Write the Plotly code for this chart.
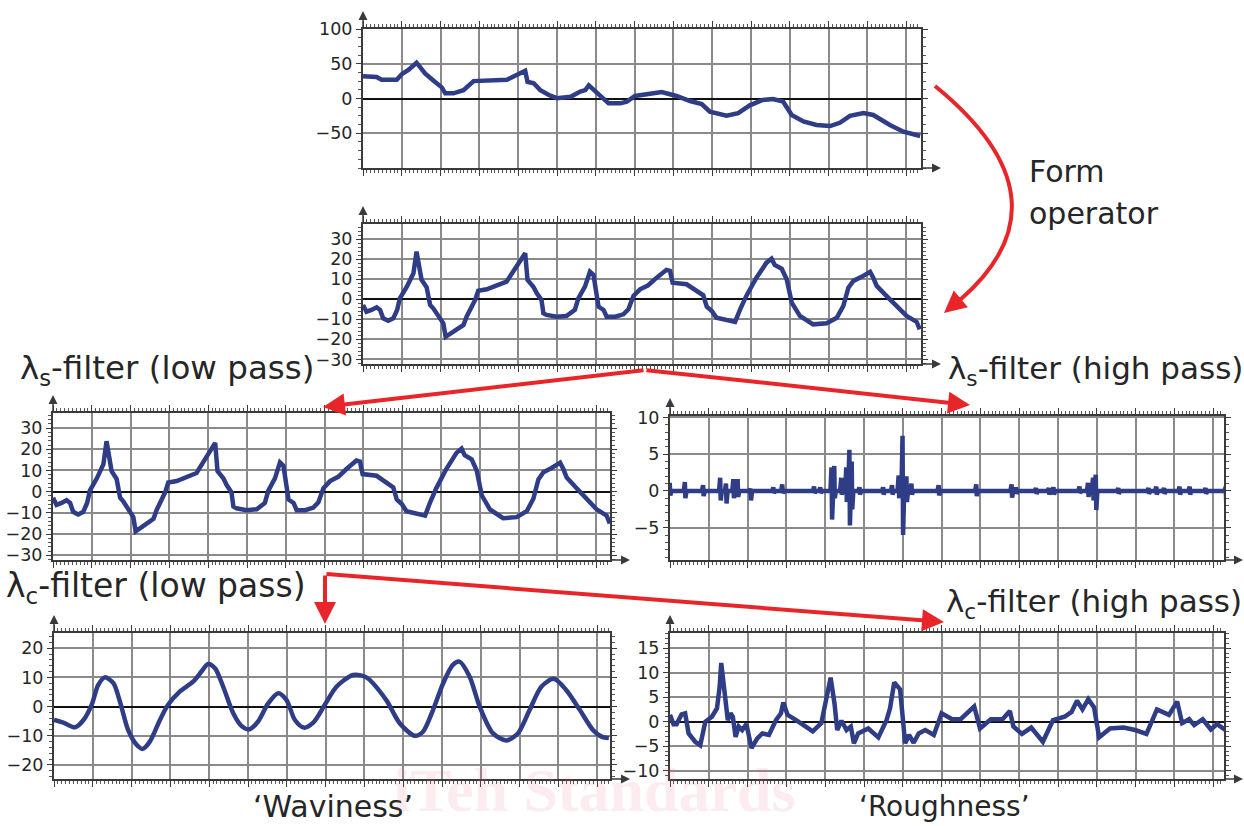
import plotly.graph_objects as go

W, H = 1244, 826

# ---------------- data (x in grid units, y in µm) ----------------
prof_x = [0.0, 0.35, 0.48, 0.87, 1.0, 1.17, 1.38, 1.6, 1.82, 2.03, 2.12, 2.33, 2.59, 2.85, 3.71, 3.97,
          4.18, 4.24, 4.4, 4.57, 4.79, 5.0, 5.35, 5.6, 5.73, 5.82, 5.94, 6.11, 6.33, 6.63, 6.8, 7.01,
          7.31, 7.7, 8.08, 8.43, 8.73, 8.94, 9.37, 9.67, 9.97, 10.3, 10.57, 10.83, 11.05, 11.35, 11.69,
          12.04, 12.29, 12.55, 12.9, 13.15, 13.58, 13.93, 14.36]
prof_y = [32, 31, 27, 27, 35, 41, 51.5, 36, 25.6, 16, 7.5, 7.5, 12, 25, 27, 35,
          40, 24, 22, 12, 5, 0.5, 2.5, 10, 12, 19, 13, 2.5, -7, -7, -4.6, 3.6,
          6.5, 9.4, 3.6, -3.6, -8, -19, -24.7, -21, -9.8, -2, -0.7, -4.6, -23.7, -33, -38,
          -39.6, -35, -25, -21, -23.7, -38, -47.7, -54]

form_x = [0.0, 0.09, 0.22, 0.35, 0.44, 0.52, 0.65, 0.78, 0.88, 0.95, 1.13, 1.3, 1.38, 1.45, 1.51, 1.64,
          1.73, 1.81, 1.9, 2.07, 2.13, 2.24, 2.41, 2.59, 2.67, 2.8, 2.89, 2.97, 3.19, 3.7, 3.92, 4.18,
          4.24, 4.39, 4.48, 4.6, 4.65, 4.73, 4.99, 5.25, 5.46, 5.55, 5.72, 5.85, 5.94, 6.07, 6.2, 6.28,
          6.5, 6.71, 6.84, 6.97, 7.14, 7.35, 7.57, 7.82, 7.91, 7.98, 8.34, 8.6, 8.77, 8.86, 8.99, 9.11,
          9.33, 9.59, 9.72, 9.88, 10.14, 10.4, 10.53, 10.61, 10.79, 10.92, 11.05, 11.26, 11.6, 11.95,
          12.21, 12.38, 12.51, 12.64, 12.85, 13.07, 13.15, 13.24, 13.49, 13.75, 14.01, 14.27, 14.35]
form_y = [-2.8, -6.2, -5.3, -4, -5.3, -9.5, -10.7, -9.5, -5.3, 0.5, 6.3, 13, 23.8, 14.7, 9.7, 6,
          -2.8, -4.5, -7, -12, -18.7, -17.3, -15, -12.8, -8.7, -3.7, -0.3, 4.3, 5, 8.8, 15.5, 23,
          9.7, 6.3, 3, -0.3, -7, -7.8, -8.7, -8.3, -5.3, 0.5, 6.3, 13.8, 12.2, -3.7, -5.3, -8.7,
          -8.7, -7.5, -5, 1.7, 5, 7, 10.8, 14.7, 14.2, 8.3, 7.5, 4.2, 2, -3.7, -5.8, -9.2,
          -10.3, -11.3, -5, 1.7, 10.8, 18.3, 20.3, 17.2, 15.3, 10, -1.7, -8.3, -12.5, -12,
          -9.2, -3.3, 5.8, 9.2, 11.2, 13.7, 10.8, 6.7, 1.7, -3, -8.3, -11.3, -15]

# lambda-s high pass: burst positions and peak amplitudes
hp_pos = [0.0, 0.39, 0.86, 1.30, 1.45, 1.64, 1.75, 2.08, 2.67, 2.90,
          3.72, 3.88, 4.17, 4.24, 4.42, 4.55, 4.63, 4.69, 4.89, 5.50,
          5.73, 5.90, 6.00, 6.10, 6.23, 6.93, 7.90, 8.81, 8.92, 9.44,
          9.77, 9.89, 10.56, 10.78, 10.91, 10.98, 11.56, 12.34, 12.54, 12.74,
          13.14, 13.40, 13.81, 14.33]
hp_up = [1.1, 1.2, 0.8, 1.8, 1.0, 1.6, 1.6, 0.3, 0.5, 0.9,
         0.6, 0.5, 3.2, 3.4, 1.8, 3.2, 5.6, 4.0, 0.5, 0.5,
         0.8, 2.1, 7.5, 2.0, 1.0, 0.8, 0.9, 0.9, 0.5, 0.4,
         0.4, 0.5, 0.6, 1.1, 1.8, 2.2, 0.4, 0.4, 0.6, 0.4,
         0.6, 0.6, 0.4, 0.6]
hp_dn = [-0.6, -1.0, -0.7, -1.3, -1.7, -1.0, -0.8, -1.3, -0.3, -0.3,
         -0.3, -0.3, -3.9, -1.0, -0.5, -1.5, -4.7, -2.5, -0.5, -0.5,
         -0.5, -1.0, -6.0, -1.5, -0.5, -0.6, -0.7, -0.9, -0.4, -0.4,
         -0.5, -0.5, -0.3, -0.8, -1.3, -2.6, -0.4, -0.4, -0.5, -0.4,
         -0.5, -0.5, -0.4, -1.8]

wav_x = [0.0, 0.24, 0.54, 0.76, 0.97, 1.14, 1.31, 1.53, 1.7, 1.91, 2.13, 2.28, 2.47, 2.73, 2.94, 3.24,
         3.59, 3.8, 3.97, 4.15, 4.36, 4.62, 4.83, 5.03, 5.26, 5.52, 5.78, 5.99, 6.21, 6.44, 6.68, 6.98,
         7.28, 7.71, 8.05, 8.56, 8.91, 9.3, 9.51, 9.77, 10.03, 10.28, 10.45, 10.71, 10.97, 11.31, 11.66,
         11.96, 12.26, 12.56, 12.88, 13.2, 13.55, 13.89, 14.11, 14.3]
wav_y = [-4.6, -5.5, -7.1, -4.6, 0.6, 7.4, 10, 8, 1.7, -8, -13.1, -14.5, -12, -4.6, 0.6, 5.1,
         8.6, 12, 14.6, 13.1, 6.8, -2.3, -6.6, -7.8, -5.1, 1.1, 4.6, 2.3, -4.6, -7.2, -5.5, 0.6,
         6.8, 10.8, 10, 2.3, -5.7, -10, -8.6, -1.1, 8, 14.3, 15.4, 10.3, 0, -9.1, -11.6,
         -9.1, -1.1, 6.8, 9.5, 5.7, -1.1, -8, -10.3, -10.8]

rough_x = [0.0, 0.09, 0.17, 0.3, 0.39, 0.48, 0.65, 0.78, 0.91, 1.08, 1.21, 1.28, 1.32, 1.4, 1.49, 1.56,
           1.62, 1.69, 1.77, 1.86, 1.97, 2.1, 2.25, 2.38, 2.55, 2.73, 2.86, 2.92, 3.03, 3.25, 3.46, 3.68,
           3.9, 4.03, 4.14, 4.24, 4.31, 4.42, 4.55, 4.66, 4.74, 4.85, 5.11, 5.37, 5.58, 5.67, 5.78, 5.93,
           6.02, 6.06, 6.16, 6.28, 6.41, 6.58, 6.8, 7.0, 7.27, 7.49, 7.84, 7.99, 8.27, 8.57, 8.76, 8.85,
           9.07, 9.31, 9.61, 9.87, 10.17, 10.35, 10.49, 10.63, 10.78, 10.93, 11.06, 11.34, 11.69, 11.99,
           12.28, 12.55, 12.86, 13.07, 13.2, 13.38, 13.51, 13.73, 13.94, 14.1, 14.32, 14.37]
rough_y = [1.4, -0.5, -0.5, 1.5, 1.7, -2.4, -4.1, -4.8, 0, 1, 2.7, 7.1, 12, 6.5, 0.3, 1.7,
           1, -3.1, -1, -1.7, -0.5, -5.4, -3.4, -2.4, -2.7, 0.3, 1.7, 3.9, 1.4, 0.3, -0.7, -2,
           -0.3, 4.4, 9, 3.7, -1.7, 0.2, -1.7, -1, -4.4, -2.4, -1.4, -3.2, 0.3, 2.7, 8, 6.6,
           0.3, -4.4, -2.7, -4.3, -2.4, -1.7, -2.7, 1.7, 0.5, 0.5, 3.1, -1.4, 0.5, 0.5, 2.2, -1,
           -2.5, -1.2, -4.1, 0.3, 1, 2, 4.3, 2.5, 4.6, 2.9, -3.2, -1.4, -1.2, -1.7,
           -2.5, 2.5, 1.4, 4.1, -0.3, 0.5, -0.7, 0.5, -1.6, -0.5, -1.7, -3.1]

y1_ticks = [-50, 0, 50, 100]
y2_ticks = [-30, -20, -10, 0, 10, 20, 30]
y4_ticks = [-5, 0, 5, 10]
y5_ticks = [-20, -10, 0, 10, 20]
y6_ticks = [-10, -5, 0, 5, 10, 15]

# build high-pass trace from bursts (short oscillation around each burst centre)
hp_x, hp_y = [-0.05], [0.0]
for p, u, d in zip(hp_pos, hp_up, hp_dn):
    hp_x += [p - 0.035, p - 0.02, p - 0.007, p + 0.007, p + 0.02, p + 0.035]
    hp_y += [0.0, u * 0.6, u, d, d * 0.5, 0.0]
hp_x.append(14.4)
hp_y.append(0.0)

# ---------------- layout helpers ----------------
def fx(p):
    return p / W

def fy(p):
    return 1 - p / H

LINE = "#2f3c86"
GRID = "#8a8a8a"
AX = "#3a3a3a"
TXT = "#262626"
RED = "#e8262a"
FONT = "DejaVu Sans"

# (left, right, top, bottom) pixels, y-range, ticks, minor dtick
panels = [
    (363, 921, 29, 168, [-100, 100], y1_ticks, 12.5),
    (363, 921, 224, 364, [-32.3, 37.6], y2_ticks, 2),
    (53, 610, 413, 560, [-32.2, 37.1], y2_ticks, 2),
    (670, 1224, 416, 560, [-9.4, 10.2], y4_ticks, 1),
    (54, 610, 633, 779, [-24.8, 25.2], y5_ticks, 2),
    (670, 1224, 633, 779, [-11.7, 18.1], y6_ticks, 1),
]
series = [(prof_x, prof_y, "linear"), (form_x, form_y, "linear"), (form_x, form_y, "linear"),
          (hp_x, hp_y, "linear"), (wav_x, wav_y, "spline"), (rough_x, rough_y, "linear")]

fig = go.Figure()
layout = {}
annotations = []
for i, ((l, r, t, b, yr, yt, ymin), (sx, sy, shape)) in enumerate(zip(panels, series)):
    n = "" if i == 0 else str(i + 1)
    xr = [0, (r - l) / 38.8]
    layout["xaxis" + n] = dict(
        domain=[fx(l), fx(r)], range=xr, anchor="y" + n, automargin=False,
        tick0=0, dtick=1, showticklabels=False, ticks="outside", ticklen=6, tickwidth=1,
        tickcolor=AX, showgrid=True, gridcolor=GRID, gridwidth=2, zeroline=False,
        showline=True, linecolor=AX, linewidth=2, mirror="allticks",
        minor=dict(dtick=0.1, tick0=0, ticks="outside", ticklen=3, tickcolor="#555", showgrid=False),
    )
    layout["yaxis" + n] = dict(
        domain=[fy(b), fy(t)], range=yr, anchor="x" + n, automargin=False,
        tickvals=yt, ticks="outside", ticklen=5, tickwidth=1, tickcolor=AX,
        tickfont=dict(family=FONT, size=17.5, color=TXT),
        showgrid=True, gridcolor=GRID, gridwidth=2,
        zeroline=True, zerolinecolor="#111", zerolinewidth=2,
        showline=True, linecolor=AX, linewidth=2, mirror="allticks",
        minor=dict(dtick=ymin, tick0=0, ticks="outside", ticklen=3, tickcolor="#555", showgrid=False),
    )
    fig.add_trace(go.Scatter(x=sx, y=sy, mode="lines", xaxis="x" + n, yaxis="y" + n,
                             line=dict(color=LINE, width=4.5, shape=shape, smoothing=0.8),
                             showlegend=False, hoverinfo="skip"))
    # axis arrows
    annotations.append(dict(x=fx(l), y=fy(t - 18), xref="paper", yref="paper", ax=0, ay=18,
                            axref="pixel", ayref="pixel", showarrow=True, arrowhead=2,
                            arrowsize=1.2, arrowwidth=1.5, arrowcolor=AX, text=""))
    annotations.append(dict(x=fx(r + 20), y=fy(b), xref="paper", yref="paper", ax=-20, ay=0,
                            showarrow=True, arrowhead=2, arrowsize=1.2, arrowwidth=1.5,
                            arrowcolor=AX, text=""))

# red flow arrows
def red_arrow(tail, tip):
    annotations.append(dict(x=fx(tip[0]), y=fy(tip[1]), xref="paper", yref="paper",
                            ax=tail[0] - tip[0], ay=tail[1] - tip[1], showarrow=True,
                            arrowhead=2, arrowsize=1.1, arrowwidth=4, arrowcolor=RED, text=""))

red_arrow((645, 370), (323, 407))
red_arrow((645, 370), (970, 405))
red_arrow((325, 574), (325, 624))
red_arrow((325, 574), (944, 622))
red_arrow((963, 297), (944, 313))

shapes = [dict(type="path", xref="paper", yref="paper",
               path="M %f,%f Q %f,%f %f,%f" % (fx(935), fy(86), fx(1075), fy(200), fx(960), fy(300)),
               line=dict(color=RED, width=4))]

def label(text, x, y, size=30, anchor="left"):
    annotations.append(dict(text=text, x=fx(x), y=fy(y), xref="paper", yref="paper",
                            xanchor=anchor, yanchor="middle", showarrow=False,
                            font=dict(family=FONT, size=size, color=TXT)))

label("Form", 1027, 172)
label("operator", 1027, 213)
label("λ<sub>s</sub>-filter (low pass)", 18, 370, size=32.5)
label("λ<sub>s</sub>-filter (high pass)", 946, 370, size=31)
label("λ<sub>c</sub>-filter (low pass)", 4, 587, size=33)
label("λ<sub>c</sub>-filter (high pass)", 944, 603, size=31)
label("‘Waviness’", 333, 806, anchor="center")
label("‘Roughness’", 944, 806, size=28, anchor="center")
annotations.append(dict(text="<b>iTeh Standards</b>", x=fx(594), y=fy(790), xref="paper", yref="paper",
                        showarrow=False, xanchor="center", yanchor="middle",
                        font=dict(family="Liberation Serif", size=62, color="rgba(235,110,130,0.13)")))

fig.update_layout(**layout)
fig.update_layout(width=W, height=H, margin=dict(l=0, r=0, t=0, b=0, autoexpand=False),
                  paper_bgcolor="white", plot_bgcolor="white",
                  annotations=annotations, shapes=shapes, showlegend=False)
fig.write_html("out.html", config={"displayModeBar": False},
               post_script="document.body.style.margin='0';document.body.style.overflow='hidden';")
